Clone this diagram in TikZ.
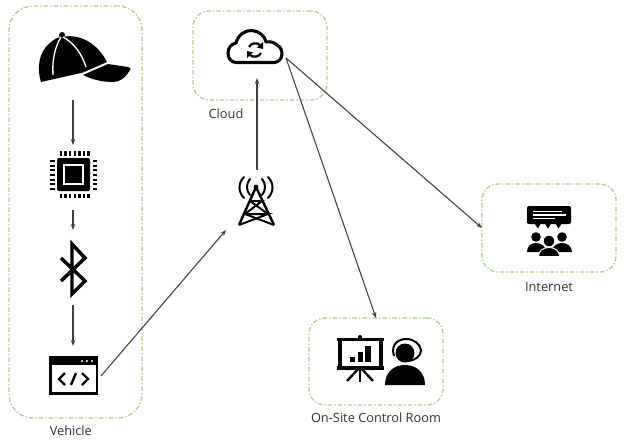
\documentclass[tikz,border=0pt]{standalone}
\usepackage{fontspec}
\setmainfont{Open Sans}
\usetikzlibrary{positioning,arrows.meta}
\definecolor{boxgreen}{RGB}{169,209,142}
\definecolor{labelgray}{RGB}{50,50,50}
\tikzset{
    groupbox/.style={draw=boxgreen, line width=1pt, dash pattern=on 3.5pt off 1.5pt on 1pt off 1.5pt, rounded corners=18pt, inner sep=0, outer sep=0},
    iconbox/.style={inner sep=0, outer sep=0},
    grouplabel/.style={text=labelgray, font=\fontsize{9.6}{11}\selectfont, inner sep=0, outer sep=0},
    link/.style={-{Stealth[length=4.5pt,width=3.4pt]}, draw=black!75, line width=0.8pt},
    seam/.style={white, line width=1pt},
    thickicon/.style={black, line width=2.3pt}
}
\begin{document}
\begin{tikzpicture}[x=0.75pt,y=-0.75pt]
    \useasboundingbox (0,0) rectangle (624,443);
    \node[groupbox, minimum width=99.75pt, minimum height=309pt] (vehicle) at (75.5,212) {};
    \node[groupbox, rounded corners=12pt, minimum width=100.5pt, minimum height=66.75pt] (cloudbox) at (260,55.5) {};
    \node[groupbox, rounded corners=12pt, minimum width=100.5pt, minimum height=66pt] (internet) at (549,228) {};
    \node[groupbox, rounded corners=12pt, minimum width=100.5pt, minimum height=65.25pt] (room) at (376,361.5) {};
    \node[grouplabel, below=6pt of vehicle.south, xshift=-3.5pt] (vehiclelabel) {Vehicle};
    \node[grouplabel, below=6.5pt of cloudbox.south, xshift=-25.5pt] (cloudlabel) {Cloud};
    \node[grouplabel, below=8pt of internet.south] (internetlabel) {Internet};
    \node[grouplabel, below=6pt of room.south] (roomlabel) {On-Site Control Room};
    \node[iconbox, minimum width=75pt, minimum height=51pt] (hat) at (73,66) {};
    \node[iconbox, minimum width=33pt, minimum height=48.75pt] (chip) at (73,177.5) {};
    \node[iconbox, minimum width=24pt, minimum height=56.25pt] (bluetooth) at (73,267.5) {};
    \node[iconbox, minimum width=42pt, minimum height=45pt] (code) at (73,376) {};
    \node[iconbox, minimum width=46.5pt, minimum height=45pt] (tower) at (257,200) {};
    \node[iconbox, minimum width=43.5pt, minimum height=30pt] (cloud) at (257,58) {};
    % hat
    \fill (41,82) .. controls (37,70) and (38,52) .. (50,43) .. controls (54,39) and (58,37) .. (62,37)
        .. controls (80,33) and (98,44) .. (107,62) -- (83,72.5) -- cycle;
    \fill (62,35) circle[radius=3];
    \fill (83,75) -- (108,64) -- (128,67) .. controls (131,68) and (131,69) .. (130,70)
        .. controls (125,78) and (120,82) .. (113,82) .. controls (103,82) and (93,80) .. (83,75) -- cycle;
    \draw[seam] (53,75) .. controls (52,60) and (55,47) .. (61,37);
    \draw[seam] (86,67) .. controls (82,54) and (74,43) .. (63,37);
    % chip
    \fill[rounded corners=1.5pt] (57,158) rectangle (90,191);
    \draw[white, line width=1.1pt] (64,165) rectangle (83,184);
    \foreach \k in {0,...,6} {
        \fill (59.8+\k*4.6,151) rectangle (62.2+\k*4.6,155.5);
        \fill (59.8+\k*4.6,193.5) rectangle (62.2+\k*4.6,198);
        \fill (50,161+\k*4.6-.8) rectangle (54.5,161+\k*4.6+1.2);
        \fill (92.5,161+\k*4.6-.8) rectangle (97,161+\k*4.6+1.2);
    }
    % bluetooth
    \draw[thickicon, line width=2.6pt, miter limit=10] (61,258) -- (85,281) -- (72,294) -- (72,244) -- (85,258) -- (61,281);
    % code window
    \fill (49,356) rectangle (98,395);
    \fill[white] (52,365) rectangle (95.5,392);
    \foreach \k in {82,87,92} \fill[white] (\k,361) circle[radius=1.2];
    \draw[thickicon, line width=1.8pt] (65,373) -- (59,379) -- (65,385);
    \draw[thickicon, line width=1.8pt] (76,373) -- (71,385);
    \draw[thickicon, line width=1.8pt] (82,373) -- (88,379) -- (82,385);
    % tower
    \fill (256,187) circle[radius=2.4];
    \draw[black, line width=1.8pt, line join=round] (239,225) -- (256,187) -- (274,225);
    \draw[black, line width=1.5pt] (250,201) -- (262,201) -- (245,214) -- (268,214) -- (239,225);
    \draw[black, line width=1.5pt] (250,201) -- (268,214);
    \draw[black, line width=1.5pt] (245,214) -- (274,225);
    \draw[black, line width=1.5pt, line cap=round] (250,179) .. controls (246,183) and (246,191) .. (250,195);
    \draw[black, line width=1.5pt, line cap=round] (262,179) .. controls (266,183) and (266,191) .. (262,195);
    \draw[black, line width=1.5pt, line cap=round] (244,177) .. controls (238,183) and (238,192) .. (244,198);
    \draw[black, line width=1.5pt, line cap=round] (268,177) .. controls (274,183) and (274,192) .. (268,198);
    % cloud
    \draw[thickicon, line join=round] (236,62.5) .. controls (231,62.5) and (228,58) .. (228,53) .. controls (228,48) and (231,44) .. (236,43)
        .. controls (238,35) and (245,30) .. (252,30.5) .. controls (259,31) and (265,36) .. (266,42)
        .. controls (271,41) and (275,43) .. (277,45) .. controls (281,47) and (282,51) .. (282,54)
        .. controls (282,59) and (278,62.5) .. (274,62.5) -- cycle;
    \draw[black, line width=1.7pt] (249,47) .. controls (251,43) and (257,42) .. (260,45);
    \draw[black, line width=1.7pt] (261,53) .. controls (259,57) and (253,58) .. (250,55);
    \fill (263,42) -- (263,49) -- (257,47.5) -- cycle;
    \fill (247,58) -- (247,51) -- (253,52.5) -- cycle;
    % people
    \fill[rounded corners=1.5pt] (527,206) rectangle (571,224);
    \fill (534,223) -- (541,223) -- (538,228.5) -- cycle;
    \fill (544.5,223) -- (551.5,223) -- (548,228.5) -- cycle;
    \fill (555,223) -- (562,223) -- (558.5,228.5) -- cycle;
    \draw[white, line width=0.8pt] (533,211.5) -- (562,211.5);
    \draw[white, line width=0.8pt] (533,215) -- (566,215);
    \draw[white, line width=0.8pt] (533,218.5) -- (555,218.5);
    \fill (536,237) circle[radius=4.8];
    \fill (562,237) circle[radius=4.8];
    \fill (527,252) .. controls (527,246) and (531,243) .. (536,243) .. controls (541,243) and (546,246) .. (546,252) -- cycle;
    \fill (552,252) .. controls (552,246) and (557,243) .. (562,243) .. controls (567,243) and (572,246) .. (572,252) -- cycle;
    \draw[fill=black, draw=white, line width=0.7pt] (549,241) circle[radius=5.8];
    \draw[fill=black, draw=white, line width=0.7pt] (538.5,256.5) .. controls (538.5,251) and (543,247.5) .. (549,247.5) .. controls (555,247.5) and (559.5,251) .. (559.5,256.5) -- cycle;
    % presentation board and operator
    \fill (360,337) circle[radius=2];
    \draw[thickicon] (337,339.5) -- (384,339.5);
    \draw[thickicon] (337,368) -- (384,368);
    \draw[thickicon] (340,339) -- (340,368);
    \draw[thickicon] (381,339) -- (381,368);
    \fill (350,357) rectangle (355,362);
    \fill (357.5,352) rectangle (363,362);
    \fill (365,346) rectangle (370.5,362);
    \draw[thickicon, line width=1.8pt] (360,368) -- (360,382);
    \draw[thickicon, line width=1.8pt] (359,368) -- (347,381);
    \draw[thickicon, line width=1.8pt] (361,368) -- (373,381);
    \fill (405,353) circle[radius=9.5];
    \draw[black, line width=1.5pt] (394,356) .. controls (390,343) and (400,339) .. (406,339) .. controls (414,339) and (420,344) .. (421,350) .. controls (421,356) and (416,360) .. (408,361);
    \fill (385,385) .. controls (385,372) and (394,365) .. (405,365) .. controls (416,365) and (425,372) .. (425,385) -- cycle;
    % links
    \draw[link] (hat) -- (chip);
    \draw[link] (chip) -- (bluetooth);
    \draw[link] (bluetooth) -- (code);
    \draw[link] (code.east) -- (tower.south west);
    \draw[link] (tower) -- (cloud);
    \draw[link] (cloud.east) -- (internet.west);
    \draw[link] (cloud.east) -- (room.north);
\end{tikzpicture}
\end{document}
